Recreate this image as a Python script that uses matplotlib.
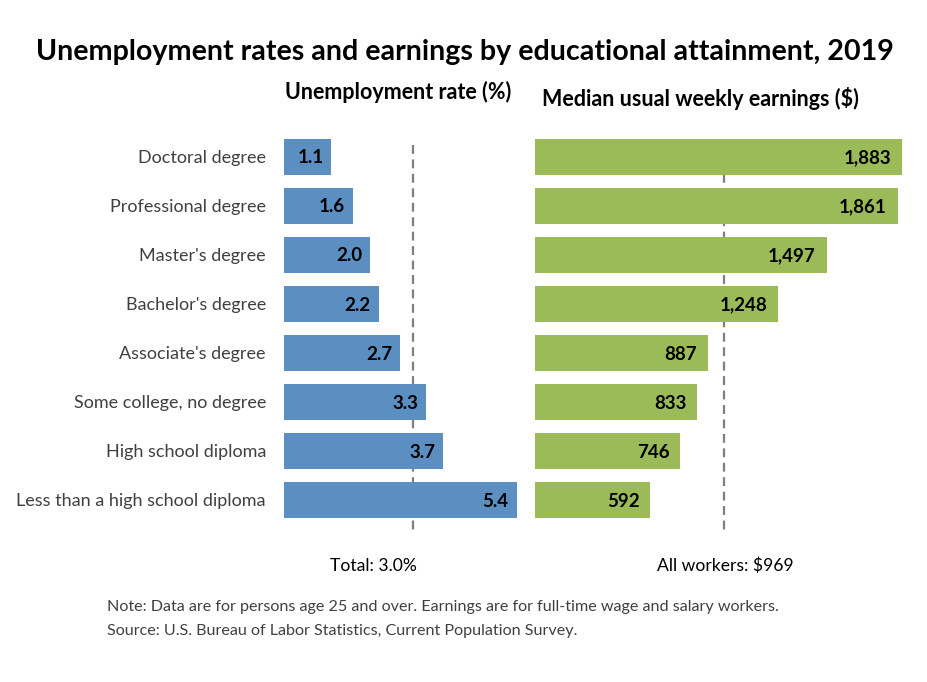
import numpy as np
import matplotlib.pyplot as plt

plt.rcParams['font.family'] = ['Lato', 'DejaVu Sans']

categories = ["Doctoral degree", "Professional degree", "Master's degree",
              "Bachelor's degree", "Associate's degree", "Some college, no degree",
              "High school diploma", "Less than a high school diploma"]
unemp = [1.1, 1.6, 2.0, 2.2, 2.7, 3.3, 3.7, 5.4]
earnings = [1883, 1861, 1497, 1248, 887, 833, 746, 592]
unemp_total = 3.0
earn_all = 969

blue = '#5b8fc1'
green = '#9bbb59'
y = np.arange(len(categories))

fig = plt.figure(figsize=(9.28, 6.82), dpi=100)
ax1 = fig.add_axes([284/928, 0.2082, 245.7/928, 0.6012])
ax2 = fig.add_axes([535/928, 0.2082, 375.2/928, 0.6012])

for ax in (ax1, ax2):
    ax.set_ylim(7.816, -0.551)
    for s in ax.spines.values():
        s.set_visible(False)
    ax.set_xticks([])
    ax.set_yticks([])

ax1.set_xlim(0, 5.7)
ax2.set_xlim(0, 1925)

# dashed reference lines, behind the bars
ax1.vlines(unemp_total, -0.245, 7.61, colors='#7f7f7f', linestyles=(0, (4, 2.5)), lw=1.6, zorder=1)
ax2.vlines(earn_all, -0.245, 7.61, colors='#7f7f7f', linestyles=(0, (4, 2.5)), lw=1.6, zorder=1)

ax1.barh(y, unemp, height=0.73, color=blue, zorder=2)
ax2.barh(y, earnings, height=0.73, color=green, zorder=2)

for i, v in enumerate(unemp):
    ax1.annotate(f"{v:.1f}", (v, i), xytext=(-8, -1), textcoords='offset pixels',
                 ha='right', va='center', fontsize=13.5, fontweight='bold', color='black')
for i, v in enumerate(earnings):
    ax2.annotate(f"{v:,}", (v, i), xytext=(-11, -1), textcoords='offset pixels',
                 ha='right', va='center', fontsize=13.5, fontweight='bold', color='black')

for i, c in enumerate(categories):
    ax1.annotate(c, (0, i), xytext=(-18, -1), textcoords='offset pixels',
                 ha='right', va='center', fontsize=13.0, color='#404040')

fig.text(465/928, 1 - 52/682, "Unemployment rates and earnings by educational attainment, 2019",
         ha='center', va='center', fontsize=20.6, fontweight='bold', color='black')
fig.text(398/928, 1 - 92/682, "Unemployment rate (%)", ha='center', va='center',
         fontsize=15.5, fontweight='bold', color='black')
fig.text(700/928, 1 - 99/682, "Median usual weekly earnings ($)", ha='center', va='center',
         fontsize=15.5, fontweight='bold', color='black')

fig.text(373/928, 1 - 566/682, "Total: 3.0%", ha='center', va='center', fontsize=12.6, color='black')
fig.text(725/928, 1 - 566/682, "All workers: $969", ha='center', va='center', fontsize=12.6, color='black')

fig.text(107/928, 1 - 607/682,
         "Note: Data are for persons age 25 and over. Earnings are for full-time wage and salary workers.",
         ha='left', va='center', fontsize=11.6, color='#404040')
fig.text(107/928, 1 - 631/682,
         "Source: U.S. Bureau of Labor Statistics, Current Population Survey.",
         ha='left', va='center', fontsize=11.6, color='#404040')

fig.savefig('out.png', dpi=100)
